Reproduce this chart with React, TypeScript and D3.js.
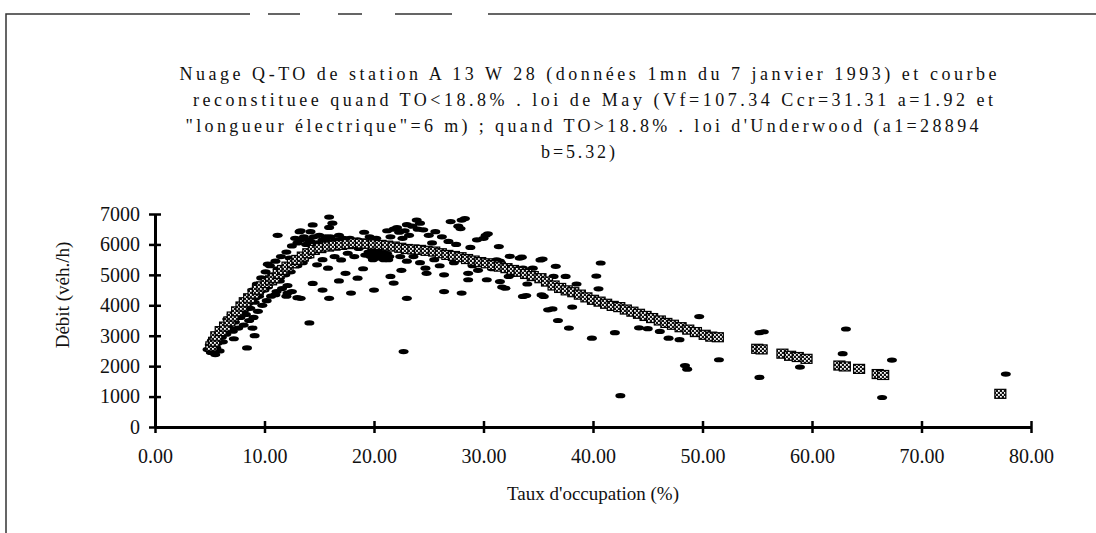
import React, { useEffect, useRef } from "react";
import * as d3 from "d3";

const nuageMontee: [number, number][] = [
  [4.8, 2550], [5.0, 2700], [5.2, 2850], [5.1, 2450], [5.5, 2380], [5.6, 2600], [5.8, 2950],
  [5.9, 2500], [6.0, 3150], [6.2, 2800], [6.3, 3350], [6.5, 3050], [6.6, 3550], [6.8, 3250],
  [7.0, 3700], [7.1, 3150], [7.3, 3450], [7.5, 3850], [7.6, 3250], [7.8, 3600], [8.0, 4000],
  [8.1, 3350], [8.3, 3700], [8.4, 4200], [8.6, 3500], [8.7, 3900], [8.9, 4500], [9.0, 3600],
  [9.1, 4100], [9.3, 4700], [9.4, 3800], [9.5, 4300], [9.7, 4900], [9.8, 4000], [10.0, 4500],
  [10.1, 5100], [10.2, 4150], [10.4, 4700], [10.5, 5300], [10.6, 4300], [10.8, 4900],
  [11.0, 5450], [11.1, 4450], [11.3, 5100], [11.5, 5600], [11.6, 4550], [11.8, 5250],
  [12.0, 5750], [12.1, 4650], [8.4, 2600], [9.1, 3000], [8.9, 3250], [7.2, 2900],
  [11.0, 4350], [12.0, 4300], [13.0, 4250], [12.5, 4450], [9.0, 4300], [10.3, 5350],
  [5.3, 2550], [5.7, 2750], [6.1, 2950], [6.4, 3200], [6.9, 3400], [7.4, 3600], [7.7, 3750],
  [8.2, 3850], [8.5, 4050], [9.2, 4250], [9.6, 4450], [10.3, 4600], [10.7, 5000],
  [11.2, 5200], [11.4, 4800], [11.9, 5000], [12.3, 5550], [12.4, 5100],
];

const nuagePic: [number, number][] = [
  [12.5, 5950], [13.0, 6050], [13.3, 6150], [13.8, 6000], [14.2, 6100], [14.8, 6050],
  [15.3, 6150], [15.8, 6100], [16.5, 6150], [17.2, 6200], [17.8, 6200], [18.5, 6150],
  [19.1, 6400], [19.6, 6250], [20.2, 6200], [21.2, 6450], [21.8, 6500], [22.3, 6400],
  [22.1, 6550], [23.0, 6650], [23.5, 6600], [23.9, 6800], [24.2, 6700], [24.5, 6480],
  [25.0, 6300], [25.6, 6420], [26.2, 6250], [27.0, 6750], [27.9, 6520], [28.0, 6800],
  [28.3, 6850], [27.7, 6600], [29.4, 6150], [30.0, 6200], [30.4, 6350], [30.2, 6300],
  [13.2, 6420], [14.2, 6420], [14.4, 6640], [15.9, 6900], [15.9, 6560], [16.2, 6700],
  [11.2, 6300], [13.3, 6450],
  [12.8, 6200], [13.6, 6250], [14.5, 6250], [15.0, 6300], [15.6, 6250], [16.0, 6250],
  [16.8, 6300], [14.0, 6150], [24.0, 6500], [22.8, 6450], [21.5, 6250], [22.6, 6200],
  [23.2, 6300], [26.8, 6100], [27.5, 6000], [28.8, 5900], [25.3, 6050],
  [12.6, 5500], [13.0, 5300], [13.5, 5400], [14.0, 5600], [14.8, 5330], [15.3, 5500],
  [15.8, 5220], [16.4, 5600], [17.0, 5490], [17.6, 5710], [18.2, 5600], [18.6, 5870],
  [19.2, 5650], [19.7, 5600], [20.0, 5750], [20.3, 5550], [20.6, 5650], [20.9, 5500],
  [21.2, 5700], [21.4, 5600], [19.9, 5500], [20.5, 5800], [22.4, 5600], [23.0, 5450],
  [23.6, 5600], [24.2, 5400], [24.7, 5220], [24.8, 5050], [25.5, 5500], [26.4, 5000],
  [26.0, 5300], [27.3, 5400], [28.6, 5050], [29.0, 5300],
  [19.5, 5750], [20.1, 5650], [20.8, 5750], [21.0, 5600], [19.8, 5800], [20.4, 5700],
  [21.3, 5500],
  [12.1, 4400], [13.3, 4230], [14.4, 4720], [15.3, 4500], [15.9, 4230], [17.4, 5050],
  [17.9, 4400], [18.5, 4890], [20.0, 4500], [21.5, 4950], [21.8, 4730], [23.0, 4230],
  [22.7, 2480], [26.4, 4450], [28.0, 4400], [28.6, 4840], [14.1, 3420], [16.8, 4800],
  [19.0, 5200], [22.5, 5150],
];

const nuageDescente: [number, number][] = [
  [30.3, 4840], [31.2, 5490], [31.4, 5930], [31.5, 4780], [31.7, 4600], [32.0, 4560],
  [32.3, 4950], [32.4, 5610], [33.3, 5550], [33.5, 5580], [33.6, 5220], [33.6, 4290],
  [33.9, 4320], [34.5, 5220], [35.2, 5490], [35.3, 4340], [35.4, 5520], [35.5, 4290],
  [35.9, 3850], [36.3, 3880], [36.6, 5280], [36.8, 3500], [37.8, 3250], [38.1, 3940],
  [39.9, 2920], [40.3, 4960], [40.5, 4540], [40.7, 5390], [42.0, 3100], [42.5, 1030],
  [44.2, 3260], [45.0, 3230], [46.1, 3140], [46.9, 2920], [47.9, 2870], [48.4, 2020],
  [48.6, 1900], [49.7, 3630], [51.5, 2210], [29.5, 5150], [30.8, 5200], [31.5, 5450],
  [32.5, 5000], [34.0, 4700], [36.4, 4950], [37.5, 4950], [38.5, 4700],
];

const nuageQueue: [number, number][] = [
  [55.2, 3100], [55.6, 3130], [55.2, 1630], [58.9, 1970], [62.8, 2410], [63.1, 3220],
  [66.4, 970], [67.3, 2200], [77.7, 1740],
];

// Courbe reconstituée : loi de May (TO < 18.8%) puis loi d'Underwood (TO > 18.8%)
const courbeMay: [number, number][] = [
  [5.15, 2650], [5.4, 2800], [5.6, 2980], [6.0, 3150], [6.4, 3300], [6.8, 3470], [7.1, 3630],
  [7.5, 3800], [7.9, 3960], [8.2, 4100], [8.6, 4230], [9.0, 4380], [9.4, 4510], [9.8, 4620],
  [10.2, 4730], [10.6, 4820], [10.9, 4890], [11.3, 5030], [11.7, 5160], [12.1, 5270],
  [12.6, 5380], [13.0, 5490], [13.5, 5600], [14.0, 5710], [14.5, 5820], [15.1, 5880],
  [15.8, 5930], [16.4, 5960], [17.0, 5985], [17.6, 6010], [18.2, 6040],
];

const courbeUnderwood: [number, number][] = [
  [18.8, 6030], [19.4, 6020], [20.0, 6000], [20.6, 5985], [21.2, 5960], [21.8, 5930],
  [22.4, 5890], [23.0, 5850], [23.6, 5835], [24.2, 5820], [24.8, 5790], [25.5, 5765],
  [26.1, 5710], [26.7, 5655], [27.3, 5620], [27.9, 5580], [28.5, 5520], [29.1, 5470],
  [29.7, 5420], [30.3, 5380], [30.9, 5320], [31.5, 5270], [32.1, 5220], [32.7, 5160],
  [33.3, 5100], [33.9, 5030], [34.5, 4960], [35.2, 4890], [35.8, 4780], [36.4, 4650],
  [37.0, 4570], [37.6, 4490], [38.2, 4430], [38.8, 4350], [39.4, 4260], [40.0, 4180],
  [40.6, 4120], [41.2, 4050], [41.8, 3980], [42.4, 3940], [43.0, 3860], [43.6, 3790],
  [44.2, 3720], [44.8, 3650], [45.4, 3580], [46.1, 3500], [46.7, 3420], [47.3, 3360],
  [48.0, 3280], [48.7, 3200], [49.4, 3120], [50.2, 3030], [50.8, 2970], [51.4, 2950],
  [55.0, 2570], [55.4, 2550], [57.3, 2410], [58.0, 2340], [58.7, 2300], [59.5, 2240],
  [62.5, 2020], [63.0, 1990], [64.3, 1910], [66.0, 1740], [66.5, 1710], [77.2, 1090],
];

const xTicks = [0, 10, 20, 30, 40, 50, 60, 70, 80];
const yTicks = [0, 1000, 2000, 3000, 4000, 5000, 6000, 7000];

const titre = [
  "Nuage Q-TO de station A 13 W 28 (données 1mn du 7 janvier 1993) et courbe",
  "reconstituee quand TO<18.8% . loi de May (Vf=107.34 Ccr=31.31 a=1.92 et",
  "\"longueur électrique\"=6 m) ; quand TO>18.8% . loi d'Underwood (a1=28894",
  "b=5.32)",
];
const titreX = [588, 593, 582, 578];
const titreW = [817, 800, 793, 74];

const xLabel = "Taux d'occupation (%)";
const yLabel = "Débit (véh./h)";

export default function App() {
  const ref = useRef<SVGSVGElement>(null);

  useEffect(() => {
    document.body.style.margin = "0";
    const w = 1096;
    const h = 533;
    const font = "'Liberation Serif', 'Times New Roman', serif";

    const xScale = d3.scaleLinear().domain([0, 80]).range([155, 1031]);
    const yScale = d3.scaleLinear().domain([0, 7000]).range([427, 214]);

    const svg = d3.select(ref.current).html("").attr("width", w).attr("height", h);
    svg.append("rect").attr("width", w).attr("height", h).attr("fill", "#fff");

    // motif des marqueurs de la courbe
    const pat = svg
      .append("defs")
      .append("pattern")
      .attr("id", "damier")
      .attr("patternUnits", "userSpaceOnUse")
      .attr("width", 4)
      .attr("height", 4);
    pat.append("rect").attr("width", 4).attr("height", 4).attr("fill", "#111");
    pat.append("rect").attr("x", 0).attr("y", 0).attr("width", 1.8).attr("height", 1.8).attr("fill", "#fff");
    pat.append("rect").attr("x", 2).attr("y", 2).attr("width", 1.8).attr("height", 1.8).attr("fill", "#fff");

    // cadre (scan)
    svg
      .append("path")
      .attr("d", "M6,533 V14 H250 M268,14 H300 M338,14 H362 M395,14 H452 M488,14 H1096")
      .attr("fill", "none")
      .attr("stroke", "#333")
      .attr("stroke-width", 1.5);

    // titre
    svg
      .append("g")
      .selectAll("text")
      .data(titre)
      .join("text")
      .attr("x", (_, i) => titreX[i])
      .attr("y", (_, i) => 80 + i * 26)
      .attr("text-anchor", "middle")
      .attr("textLength", (_, i) => titreW[i])
      .attr("lengthAdjust", "spacing")
      .style("font-family", font)
      .style("font-size", "18px")
      .attr("fill", "#111")
      .text((d) => d);

    // nuage
    const nuage = [...nuageMontee, ...nuagePic, ...nuageDescente, ...nuageQueue];
    svg
      .append("g")
      .selectAll("ellipse")
      .data(nuage)
      .join("ellipse")
      .attr("cx", (d) => xScale(d[0]))
      .attr("cy", (d) => yScale(d[1]))
      .attr("rx", 5)
      .attr("ry", 2.6)
      .attr("fill", "#000");

    // courbe reconstituée
    const courbe = [...courbeMay, ...courbeUnderwood];
    svg
      .append("g")
      .selectAll("rect")
      .data(courbe)
      .join("rect")
      .attr("x", (d) => xScale(d[0]) - 5.5)
      .attr("y", (d) => yScale(d[1]) - 4.5)
      .attr("width", 11)
      .attr("height", 9)
      .attr("fill", "url(#damier)")
      .attr("stroke", "#000")
      .attr("stroke-width", 1.2);

    // axe Y
    const yAxis = svg.append("g").attr("transform", `translate(${xScale(0)},0)`);
    yAxis
      .call(d3.axisLeft(yScale).tickValues(yTicks).tickSize(0).tickFormat(d3.format("d")))
      .call((g) => g.select(".domain").attr("stroke", "#000").attr("stroke-width", 3));
    yAxis
      .selectAll(".tick line")
      .attr("x1", -6)
      .attr("x2", 6)
      .attr("stroke", "#000")
      .attr("stroke-width", 2.5);
    yAxis
      .selectAll(".tick text")
      .attr("x", -15)
      .attr("fill", "#111")
      .style("font-family", font)
      .style("font-size", "20px");

    // axe X
    const xAxis = svg.append("g").attr("transform", `translate(0,${yScale(0)})`);
    xAxis
      .call(d3.axisBottom(xScale).tickValues(xTicks).tickSize(0).tickFormat(d3.format(".2f")))
      .call((g) => g.select(".domain").attr("stroke", "#000").attr("stroke-width", 3));
    xAxis
      .selectAll(".tick line")
      .attr("y1", -6)
      .attr("y2", 6)
      .attr("stroke", "#000")
      .attr("stroke-width", 2.5);
    xAxis
      .selectAll(".tick text")
      .attr("y", 22)
      .attr("fill", "#111")
      .style("font-family", font)
      .style("font-size", "20px");

    // titres des axes
    svg
      .append("text")
      .attr("x", (xScale(0) + xScale(80)) / 2)
      .attr("y", 500)
      .attr("text-anchor", "middle")
      .attr("fill", "#111")
      .style("font-family", font)
      .style("font-size", "19px")
      .text(xLabel);

    svg
      .append("text")
      .attr("transform", "rotate(-90)")
      .attr("x", -295)
      .attr("y", 69)
      .attr("text-anchor", "middle")
      .attr("fill", "#111")
      .style("font-family", font)
      .style("font-size", "19px")
      .text(yLabel);
  }, []);

  return <svg ref={ref}></svg>;
}
